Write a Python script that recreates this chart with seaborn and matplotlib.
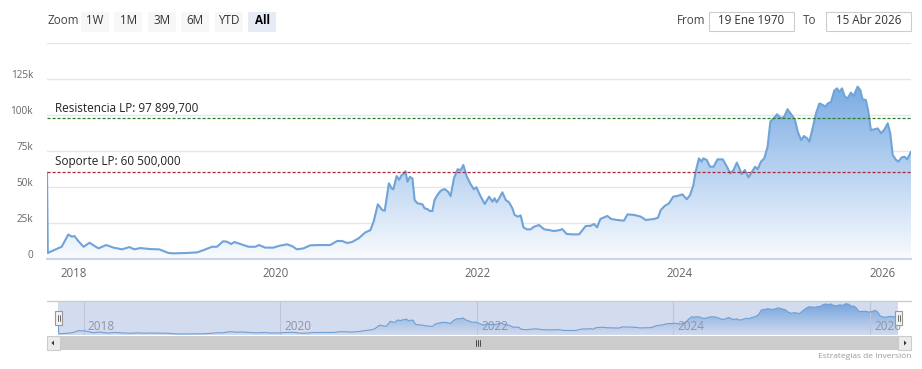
import numpy as np
import pandas as pd
import seaborn as sns
import matplotlib.pyplot as plt
import matplotlib.dates as mdates
import matplotlib.transforms as mtransforms
from matplotlib.patches import Rectangle, Polygon
from matplotlib.colors import LinearSegmentedColormap
from matplotlib.lines import Line2D

# Data (price in thousands)
dates = [
    "2017-09-28", "2017-10-01", "2017-10-27", "2017-11-20", "2017-12-14", "2017-12-27",
    "2018-01-05", "2018-01-19", "2018-02-07", "2018-03-01", "2018-03-15", "2018-04-02",
    "2018-04-30", "2018-05-26", "2018-06-26", "2018-07-23", "2018-08-09", "2018-08-31",
    "2018-10-06", "2018-11-07", "2018-12-11", "2018-12-29", "2019-02-16", "2019-03-24",
    "2019-04-17", "2019-05-17", "2019-06-04", "2019-06-26", "2019-07-10", "2019-07-25",
    "2019-08-06", "2019-08-28", "2019-09-26", "2019-10-20", "2019-11-03", "2019-11-25",
    "2019-12-25", "2020-01-16", "2020-02-12", "2020-03-01", "2020-03-19", "2020-04-12",
    "2020-05-06", "2020-06-11", "2020-07-17", "2020-08-11", "2020-08-29", "2020-09-16",
    "2020-10-04", "2020-10-28", "2020-11-21", "2020-12-09", "2020-12-21", "2021-01-05",
    "2021-01-21", "2021-01-30", "2021-02-14", "2021-02-24", "2021-03-02", "2021-03-14",
    "2021-03-23", "2021-04-01", "2021-04-08", "2021-04-15", "2021-04-22", "2021-05-01",
    "2021-05-10", "2021-05-18", "2021-05-28", "2021-06-15", "2021-06-23", "2021-07-03",
    "2021-07-12", "2021-07-21", "2021-07-29", "2021-08-08", "2021-08-20", "2021-09-03",
    "2021-09-16", "2021-09-25", "2021-10-07", "2021-10-20", "2021-11-01", "2021-11-10",
    "2021-11-22", "2021-12-06", "2021-12-18", "2021-12-27", "2022-01-09", "2022-01-26",
    "2022-02-11", "2022-02-23", "2022-03-03", "2022-03-10", "2022-03-18", "2022-03-31",
    "2022-04-12", "2022-04-24", "2022-05-06", "2022-05-14", "2022-05-26", "2022-06-05",
    "2022-06-15", "2022-06-27", "2022-07-11", "2022-07-23", "2022-08-10", "2022-08-29",
    "2022-09-16", "2022-10-03", "2022-10-25", "2022-11-02", "2022-11-18", "2022-12-08",
    "2023-01-02", "2023-01-26", "2023-02-13", "2023-02-25", "2023-03-08", "2023-03-20",
    "2023-04-14", "2023-04-28", "2023-05-20", "2023-06-13", "2023-06-26", "2023-07-20",
    "2023-08-13", "2023-08-31", "2023-09-30", "2023-10-14", "2023-10-24", "2023-11-07",
    "2023-11-23", "2023-12-08", "2023-12-23", "2024-01-10", "2024-01-26", "2024-02-07",
    "2024-02-19", "2024-02-27", "2024-03-10", "2024-03-19", "2024-03-26", "2024-04-07",
    "2024-04-19", "2024-05-02", "2024-05-16", "2024-06-04", "2024-06-19", "2024-07-01",
    "2024-07-13", "2024-07-25", "2024-08-03", "2024-08-11", "2024-08-23", "2024-09-05",
    "2024-09-14", "2024-09-29", "2024-10-08", "2024-10-20", "2024-11-01", "2024-11-13",
    "2024-11-23", "2024-12-05", "2024-12-17", "2025-01-01", "2025-01-12", "2025-01-24",
    "2025-02-08", "2025-02-20", "2025-03-02", "2025-03-14", "2025-03-24", "2025-04-05",
    "2025-04-13", "2025-04-26", "2025-05-07", "2025-05-19", "2025-05-31", "2025-06-10",
    "2025-06-18", "2025-06-30", "2025-07-12", "2025-07-22", "2025-07-30", "2025-08-09",
    "2025-08-19", "2025-08-29", "2025-09-10", "2025-09-20", "2025-10-04", "2025-10-14",
    "2025-10-22", "2025-11-03", "2025-11-12", "2025-11-21", "2025-12-03", "2025-12-16",
    "2025-12-28", "2026-01-09", "2026-01-21", "2026-01-30", "2026-02-08", "2026-02-20",
    "2026-02-28", "2026-03-13", "2026-03-23", "2026-04-01", "2026-04-15",
]
price_k = [
    60.0, 4.2, 6.5, 8.5, 17.0, 15.5,
    16.0, 12.5, 8.5, 11.3, 9.5, 7.4,
    9.7, 7.9, 6.7, 8.3, 6.7, 7.6,
    6.9, 6.7, 4.2, 3.9, 4.2, 4.6,
    6.2, 8.5, 8.5, 12.3, 12.0, 10.4,
    11.8, 10.4, 8.5, 8.5, 9.7, 7.9,
    7.9, 9.2, 10.2, 9.0, 6.7, 7.4,
    9.5, 9.7, 9.7, 12.5, 12.5, 11.1,
    11.8, 14.4, 18.5, 20.0, 26.0, 38.0,
    34.0, 33.5, 52.6, 49.0, 48.4, 57.6,
    55.0, 58.3, 59.0, 61.0, 53.7, 57.0,
    56.0, 41.0, 38.7, 38.0, 35.2, 34.7,
    33.3, 33.3, 41.0, 44.4, 47.4, 48.6,
    46.7, 43.7, 56.0, 62.3, 61.8, 65.3,
    57.5, 52.0, 48.4, 49.8, 44.4, 38.2,
    43.3, 39.8, 42.2, 39.4, 41.7, 46.3,
    41.0, 39.4, 35.2, 30.6, 29.4, 30.3,
    22.0, 20.6, 20.6, 22.4, 23.6, 20.6,
    20.1, 19.4, 20.1, 20.8, 17.4, 17.1,
    17.1, 22.9, 23.1, 24.3, 22.0, 27.8,
    29.9, 27.8, 27.1, 26.6, 31.0, 30.6,
    29.4, 27.1, 27.8, 28.7, 34.0, 36.8,
    38.7, 43.3, 43.8, 44.9, 41.5, 44.4,
    51.4, 60.6, 69.9, 67.6, 69.9, 68.8,
    64.1, 64.1, 69.2, 69.2, 64.1, 59.5,
    61.8, 66.9, 63.0, 59.0, 61.8, 56.7,
    59.5, 64.1, 62.3, 67.6, 69.9, 78.0,
    95.4, 97.7, 100.5, 97.7, 98.8, 104.0,
    100.0, 96.5, 88.4, 82.6, 85.4, 83.8,
    81.5, 91.9, 101.2, 108.0, 107.0, 105.8,
    108.0, 109.0, 117.0, 118.5, 116.0, 118.5,
    112.7, 111.6, 115.5, 113.2, 119.7, 117.3,
    110.9, 110.4, 102.3, 89.6, 90.0, 90.7,
    87.3, 90.0, 94.2, 87.3, 72.2, 68.8,
    67.6, 70.6, 71.0, 69.2, 74.5,
]

resistance = 97899.7
support = 60500.0
resistance_label = "Resistencia LP: 97 899,700"
support_label = "Soporte LP: 60 500,000"

year_ticks = ["2018", "2020", "2022", "2024", "2026"]
y_ticks = [0, 25, 50, 75, 100, 125, 150]
y_tick_labels = ["0", "25k", "50k", "75k", "100k", "125k", ""]
zoom_buttons = ["1W", "1M", "3M", "6M", "YTD", "All"]
date_from = "19 Ene 1970"
date_to = "15 Abr 2026"
credit = "Estrategias de Inversión"

df = pd.DataFrame({"date": pd.to_datetime(dates), "price": price_k})

sns.set_style("white")
plt.rcParams['font.family'] = ['Open Sans', 'DejaVu Sans']

W, H = 922, 369
fig = plt.figure(figsize=(W / 100, H / 100), dpi=100)


def fx(x):
    return x / W


def fy(y):
    return 1 - y / H


line_col = "#70a3d8"
fill_cmap = LinearSegmentedColormap.from_list("fill", ["#f9fbfe", "#5b98dd"])
nav_cmap = LinearSegmentedColormap.from_list("nav", ["#d3dbee", "#6a9fdc"])


def gradient_area(ax, x, y, ymax, cmap):
    xn = mdates.date2num(x)
    verts = np.column_stack([np.r_[xn[0], xn, xn[-1]], np.r_[0, y, 0]])
    clip = Polygon(verts, closed=True, facecolor="none", edgecolor="none")
    ax.add_patch(clip)
    grad = np.linspace(0, 1, 256).reshape(-1, 1)
    im = ax.imshow(grad, aspect="auto", cmap=cmap, origin="lower",
                   extent=[xn[0], xn[-1], 0, ymax], zorder=1, interpolation="bicubic")
    im.set_clip_path(clip)


# ---- main chart ----
ax = fig.add_axes([fx(47), fy(259), (911 - 47) / W, (259 - 43) / H])
gradient_area(ax, df["date"], df["price"], 150, fill_cmap)
sns.lineplot(data=df, x="date", y="price", ax=ax, color=line_col, linewidth=1.5, zorder=3)

ax.set_xlim(df["date"].iloc[0], df["date"].iloc[-1])
ax.set_ylim(0, 150)
ax.set_yticks(y_ticks)
ax.set_yticklabels(y_tick_labels)
ax.set_xticks(pd.to_datetime([y + "-01-01" for y in year_ticks]))
ax.set_xticklabels(year_ticks)
ax.set_xlabel("")
ax.set_ylabel("")
ax.grid(True, axis="y", color="#e6e6e6", linewidth=1)
ax.grid(False, axis="x")
ax.set_axisbelow(True)
for s in ["top", "left", "right"]:
    ax.spines[s].set_visible(False)
ax.spines["bottom"].set_color("#ccd6eb")
ax.spines["bottom"].set_linewidth(1.5)
ax.spines["bottom"].set_zorder(5)
ax.tick_params(axis="y", length=0, pad=10, labelsize=7.2, labelcolor="#666666")
ax.tick_params(axis="x", length=4, width=1, color="#ccd6eb", pad=2,
               labelsize=8.3, labelcolor="#666666")
shift = mtransforms.ScaledTranslation(0, 5 / 100, fig.dpi_scale_trans)
for lab in ax.get_yticklabels():
    lab.set_transform(lab.get_transform() + shift)

ax.axhline(resistance / 1000, color="#2e7d32", linewidth=0.9, linestyle=(0, (2.5, 1.5)), zorder=4)
ax.axhline(support / 1000, color="#a52a3a", linewidth=0.9, linestyle=(0, (2.5, 1.5)), zorder=4)
ax.annotate(resistance_label, xy=(0, resistance / 1000), xycoords=("axes fraction", "data"),
            xytext=(6, 2.5), textcoords="offset points", fontsize=8.5, color="#222222", va="bottom")
ax.annotate(support_label, xy=(0, support / 1000), xycoords=("axes fraction", "data"),
            xytext=(6, 2.5), textcoords="offset points", fontsize=8.5, color="#222222", va="bottom")

# ---- navigator ----
nav = fig.add_axes([fx(58), fy(335), (898 - 58) / W, (335 - 301) / H])
nav.set_facecolor("#d3dbee")
gradient_area(nav, df["date"], df["price"], 130, nav_cmap)
sns.lineplot(data=df, x="date", y="price", ax=nav, color="#6f9fd6", linewidth=0.8, zorder=3)
nav.set_xlim(df["date"].iloc[0], df["date"].iloc[-1])
nav.set_ylim(0, 130)
nav.set_xticks([])
nav.set_yticks([])
nav.set_xlabel("")
nav.set_ylabel("")
for s in nav.spines.values():
    s.set_visible(False)
for yr in year_ticks:
    d = pd.Timestamp(yr + "-01-01")
    nav.axvline(d, color="#bcc5d9", linewidth=0.8, zorder=2)
    nav.annotate(yr, xy=(d, 0), xycoords=("data", "axes fraction"), xytext=(3, 1.5),
                 textcoords="offset points", fontsize=8.5, color="#8e95a3", va="bottom", zorder=4)

# navigator outline and handles
fig.add_artist(Line2D([fx(47), fx(911)], [fy(301), fy(301)], color="#cccccc", linewidth=1))
for hx in (55, 895):
    fig.add_artist(Rectangle((fx(hx), fy(325)), 7 / W, 14 / H, facecolor="#f2f2f2",
                             edgecolor="#999999", linewidth=0.8, zorder=6))
    for dx in (2.5, 4.5):
        fig.add_artist(Line2D([fx(hx + dx), fx(hx + dx)], [fy(321), fy(315)],
                              color="#333333", linewidth=0.5, zorder=7))

# scrollbar
fig.add_artist(Rectangle((fx(47), fy(350)), 864 / W, 14 / H, facecolor="#f2f2f2",
                         edgecolor="none"))
fig.add_artist(Rectangle((fx(58), fy(350)), 840 / W, 14 / H, facecolor="#cccccc",
                         edgecolor="none"))
for bx in (47, 898):
    fig.add_artist(Rectangle((fx(bx), fy(350)), 13 / W, 14 / H, facecolor="#ebebeb",
                             edgecolor="#cccccc", linewidth=0.8))
fig.add_artist(Polygon([[fx(51.5), fy(343)], [fx(54), fy(340.5)], [fx(54), fy(345.5)]],
                       closed=True, facecolor="#333333", edgecolor="none"))
fig.add_artist(Polygon([[fx(906.5), fy(343)], [fx(904), fy(340.5)], [fx(904), fy(345.5)]],
                       closed=True, facecolor="#333333", edgecolor="none"))
for gx in (476, 478, 480):
    fig.add_artist(Line2D([fx(gx), fx(gx)], [fy(340), fy(346)], color="#333333", linewidth=0.6))

fig.text(fx(911), fy(356), credit, ha="right", va="center", fontsize=6, color="#999999")

# ---- range selector ----
fig.text(fx(47), fy(21), "Zoom", ha="left", va="center", fontsize=8.4, color="#444444")
for i, lab in enumerate(zoom_buttons):
    x0 = 81 + i * 33.4
    selected = lab == "All"
    fig.add_artist(Rectangle((fx(x0), fy(32)), 28 / W, 20 / H,
                             facecolor="#e6ebf5" if selected else "#f7f7f7", edgecolor="none"))
    fig.text(fx(x0 + 14), fy(21), lab, ha="center", va="center", fontsize=8.4,
             color="#000000" if selected else "#333333",
             fontweight="bold" if selected else "normal")

fig.text(fx(677), fy(21), "From", ha="left", va="center", fontsize=8.4, color="#444444")
fig.add_artist(Rectangle((fx(709), fy(31)), 85 / W, 19 / H, facecolor="white",
                         edgecolor="#cccccc", linewidth=0.8))
fig.text(fx(751.5), fy(21), date_from, ha="center", va="center", fontsize=8.4, color="#333333")
fig.text(fx(803), fy(21), "To", ha="left", va="center", fontsize=8.4, color="#444444")
fig.add_artist(Rectangle((fx(826), fy(31)), 85 / W, 19 / H, facecolor="white",
                         edgecolor="#cccccc", linewidth=0.8))
fig.text(fx(868.5), fy(21), date_to, ha="center", va="center", fontsize=8.4, color="#333333")

plt.savefig("out.png", dpi=100)
